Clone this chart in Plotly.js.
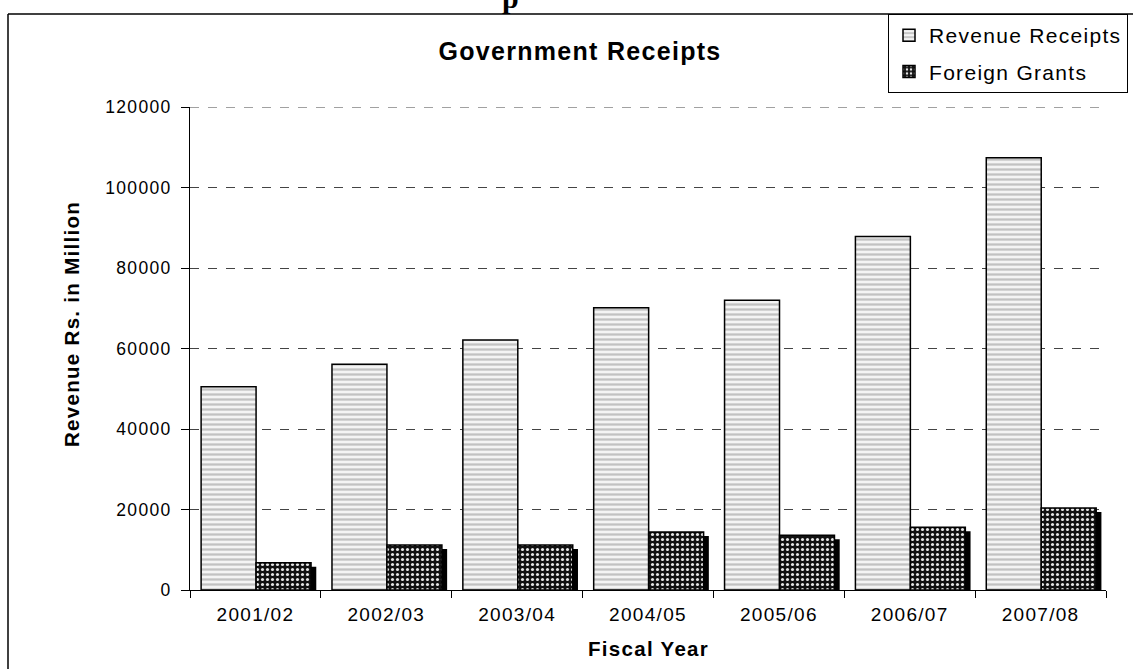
<!DOCTYPE html>
<html>
<head>
<meta charset="utf-8">
<script src="https://cdn.plot.ly/plotly-3.0.1.min.js"></script>
<style>
html,body{margin:0;padding:0;background:#fff;}
#chart{width:1133px;height:669px;}
text{letter-spacing:1.3px;}
</style>
</head>
<body>
<div id="chart"></div>
<script>
const fiscalYears = ["2001/02","2002/03","2003/04","2004/05","2005/06","2006/07","2007/08"];
const revenueReceipts = [50500, 56100, 62100, 70100, 72000, 87800, 107400];
const foreignGrants = [6800, 11200, 11200, 14400, 13600, 15600, 20400];
const yTicks = [0, 20000, 40000, 60000, 80000, 100000, 120000];

const shadowDrop = 1000;
const shadowValues = foreignGrants.map(v => v - shadowDrop);

const W = 1133, H = 669;
const L = 190, R = 1106, T = 107, B = 590;
const px = x => (x - L) / (R - L);
const py = y => (B - y) / (B - T);
const FONT = "Liberation Sans, Arial, sans-serif";

const n = fiscalYears.length;
const barW = 0.42;
const yMax = yTicks[yTicks.length - 1];

const traces = [
  {
    type: "bar", name: "Revenue Receipts", x: fiscalYears, y: revenueReceipts,
    width: Array(n).fill(barW), offset: Array(n).fill(-barW + 0.005),
    legendgroup: "a",
    marker: {color: "#f4f4f4", line: {color: "#000", width: 1.5},
      pattern: {shape: "-", bgcolor: "#f4f4f4", fgcolor: "#c2c2c2", size: 5, solidity: 0.45, fillmode: "replace"}},
    hoverinfo: "x+y"
  },
  {
    type: "bar", name: "shadow", x: fiscalYears, y: shadowValues,
    width: Array(n).fill(barW), offset: Array(n).fill(0.045),
    showlegend: false, marker: {color: "#000", line: {width: 0}}, hoverinfo: "skip"
  },
  {
    type: "bar", name: "Foreign Grants", x: fiscalYears, y: foreignGrants,
    width: Array(n).fill(barW), offset: Array(n).fill(0.005),
    legendgroup: "b",
    marker: {color: "#111", line: {color: "#000", width: 1.5},
      pattern: {shape: ".", bgcolor: "#111", fgcolor: "#e6e6e6", size: 5, solidity: 0.3, fillmode: "replace"}},
    hoverinfo: "x+y"
  }
];

const layout = {
  width: W, height: H,
  margin: {l: L, r: W - R, t: T, b: H - B, pad: 0, autoexpand: false},
  paper_bgcolor: "#fff", plot_bgcolor: "#fff",
  barmode: "overlay",
  font: {family: FONT, color: "#000", size: 17},
  title: {text: "<b>Government Receipts</b>", font: {family: FONT, size: 25, color: "#000"},
    x: 580 / W, xanchor: "center", y: 1 - 51 / H, yanchor: "middle", automargin: false},
  xaxis: {
    type: "category", tickson: "boundaries", ticks: "outside", ticklen: 7, tickcolor: "#000",
    showline: true, linecolor: "#000", linewidth: 1, showgrid: false, zeroline: false,
    tickfont: {family: FONT, size: 19, color: "#000"}, ticklabelstandoff: 7, fixedrange: true,
    automargin: false
  },
  yaxis: {
    range: [0, yMax], tickvals: yTicks, ticktext: yTicks.map(String),
    ticks: "outside", ticklen: 8, tickcolor: "#000",
    showline: true, linecolor: "#000", linewidth: 1,
    showgrid: true, gridcolor: "#444", griddash: "dash", gridwidth: 1, zeroline: false,
    tickfont: {family: FONT, size: 17.5, color: "#000"}, ticklabelstandoff: 6, fixedrange: true,
    automargin: false
  },
  legend: {
    x: px(888), y: py(14), xanchor: "left", yanchor: "top",
    bgcolor: "#fff", bordercolor: "#000", borderwidth: 1,
    font: {family: FONT, size: 21, color: "#000"},
    traceorder: "grouped", tracegroupgap: 6, itemwidth: 30
  },
  annotations: [
    {text: "<b>Revenue Rs. in Million</b>", textangle: -90, xref: "paper", yref: "paper",
      x: px(71), y: py(324), xanchor: "center", yanchor: "middle", showarrow: false,
      font: {family: FONT, size: 20.5, color: "#000"}},
    {text: "<b>Fiscal Year</b>", xref: "paper", yref: "paper",
      x: px(648), y: py(648), xanchor: "center", yanchor: "middle", showarrow: false,
      font: {family: FONT, size: 20.5, color: "#000"}},
    {text: "<b>p</b>", xref: "paper", yref: "paper",
      x: px(511), y: py(16), xanchor: "center", yanchor: "bottom", showarrow: false,
      font: {family: "Liberation Serif, Times New Roman, serif", size: 30, color: "#000"}}
  ],
  shapes: [
    {type: "line", xref: "paper", yref: "y", x0: 0, x1: 1, y0: yMax, y1: yMax, layer: "below",
      line: {color: "#444", width: 1, dash: "dash"}},
    {type: "line", xref: "paper", yref: "paper", x0: px(8), x1: px(1140), y0: py(14), y1: py(14), line: {color: "#000", width: 1.5}},
    {type: "line", xref: "paper", yref: "paper", x0: px(8), x1: px(8), y0: py(14), y1: py(680), line: {color: "#000", width: 1.5}}
  ],
  showlegend: true
};

Plotly.newPlot("chart", traces, layout, {displayModeBar: false, staticPlot: true});
</script>
</body>
</html>
